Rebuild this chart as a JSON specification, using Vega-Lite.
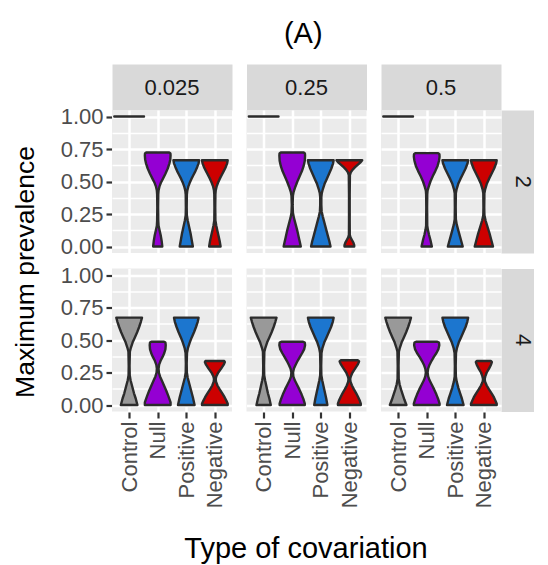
{
  "$schema": "https://vega.github.io/schema/vega-lite/v6.json",
  "background": "white",
  "padding": {"left": 12, "top": 20, "right": 0, "bottom": 0},
  "title": {"text": "(A)", "fontSize": 29, "font": "Liberation Sans", "fontWeight": "normal", "color": "#000000", "anchor": "middle", "offset": 28, "dx": 30},
  "data": {"values": [
    {"k":2,"sd":"0.025","type":"Control","y":1.0,"w":0.52},
    {"k":2,"sd":"0.025","type":"Null","y":0.723,"w":0.40},{"k":2,"sd":"0.025","type":"Null","y":0.715,"w":0.445},{"k":2,"sd":"0.025","type":"Null","y":0.70,"w":0.45},{"k":2,"sd":"0.025","type":"Null","y":0.67,"w":0.44},{"k":2,"sd":"0.025","type":"Null","y":0.64,"w":0.41},{"k":2,"sd":"0.025","type":"Null","y":0.60,"w":0.35},{"k":2,"sd":"0.025","type":"Null","y":0.56,"w":0.27},{"k":2,"sd":"0.025","type":"Null","y":0.52,"w":0.18},{"k":2,"sd":"0.025","type":"Null","y":0.49,"w":0.11},{"k":2,"sd":"0.025","type":"Null","y":0.46,"w":0.06},{"k":2,"sd":"0.025","type":"Null","y":0.43,"w":0.03},{"k":2,"sd":"0.025","type":"Null","y":0.40,"w":0.02},{"k":2,"sd":"0.025","type":"Null","y":0.30,"w":0.015},{"k":2,"sd":"0.025","type":"Null","y":0.20,"w":0.02},{"k":2,"sd":"0.025","type":"Null","y":0.16,"w":0.03},{"k":2,"sd":"0.025","type":"Null","y":0.12,"w":0.07},{"k":2,"sd":"0.025","type":"Null","y":0.08,"w":0.11},{"k":2,"sd":"0.025","type":"Null","y":0.04,"w":0.14},{"k":2,"sd":"0.025","type":"Null","y":0.0,"w":0.16},
    {"k":2,"sd":"0.025","type":"Positive","y":0.664,"w":0.45},{"k":2,"sd":"0.025","type":"Positive","y":0.64,"w":0.43},{"k":2,"sd":"0.025","type":"Positive","y":0.61,"w":0.38},{"k":2,"sd":"0.025","type":"Positive","y":0.58,"w":0.32},{"k":2,"sd":"0.025","type":"Positive","y":0.55,"w":0.25},{"k":2,"sd":"0.025","type":"Positive","y":0.52,"w":0.18},{"k":2,"sd":"0.025","type":"Positive","y":0.49,"w":0.12},{"k":2,"sd":"0.025","type":"Positive","y":0.46,"w":0.07},{"k":2,"sd":"0.025","type":"Positive","y":0.43,"w":0.035},{"k":2,"sd":"0.025","type":"Positive","y":0.40,"w":0.02},{"k":2,"sd":"0.025","type":"Positive","y":0.30,"w":0.015},{"k":2,"sd":"0.025","type":"Positive","y":0.24,"w":0.02},{"k":2,"sd":"0.025","type":"Positive","y":0.20,"w":0.05},{"k":2,"sd":"0.025","type":"Positive","y":0.15,"w":0.10},{"k":2,"sd":"0.025","type":"Positive","y":0.10,"w":0.15},{"k":2,"sd":"0.025","type":"Positive","y":0.05,"w":0.19},{"k":2,"sd":"0.025","type":"Positive","y":0.0,"w":0.23},
    {"k":2,"sd":"0.025","type":"Negative","y":0.664,"w":0.45},{"k":2,"sd":"0.025","type":"Negative","y":0.64,"w":0.43},{"k":2,"sd":"0.025","type":"Negative","y":0.61,"w":0.38},{"k":2,"sd":"0.025","type":"Negative","y":0.58,"w":0.31},{"k":2,"sd":"0.025","type":"Negative","y":0.55,"w":0.24},{"k":2,"sd":"0.025","type":"Negative","y":0.52,"w":0.17},{"k":2,"sd":"0.025","type":"Negative","y":0.49,"w":0.11},{"k":2,"sd":"0.025","type":"Negative","y":0.46,"w":0.06},{"k":2,"sd":"0.025","type":"Negative","y":0.43,"w":0.03},{"k":2,"sd":"0.025","type":"Negative","y":0.40,"w":0.02},{"k":2,"sd":"0.025","type":"Negative","y":0.30,"w":0.015},{"k":2,"sd":"0.025","type":"Negative","y":0.20,"w":0.02},{"k":2,"sd":"0.025","type":"Negative","y":0.16,"w":0.05},{"k":2,"sd":"0.025","type":"Negative","y":0.12,"w":0.09},{"k":2,"sd":"0.025","type":"Negative","y":0.08,"w":0.13},{"k":2,"sd":"0.025","type":"Negative","y":0.04,"w":0.17},{"k":2,"sd":"0.025","type":"Negative","y":0.0,"w":0.20},

    {"k":2,"sd":"0.25","type":"Control","y":1.0,"w":0.52},
    {"k":2,"sd":"0.25","type":"Null","y":0.723,"w":0.40},{"k":2,"sd":"0.25","type":"Null","y":0.715,"w":0.445},{"k":2,"sd":"0.25","type":"Null","y":0.70,"w":0.45},{"k":2,"sd":"0.25","type":"Null","y":0.66,"w":0.44},{"k":2,"sd":"0.25","type":"Null","y":0.62,"w":0.40},{"k":2,"sd":"0.25","type":"Null","y":0.58,"w":0.34},{"k":2,"sd":"0.25","type":"Null","y":0.54,"w":0.26},{"k":2,"sd":"0.25","type":"Null","y":0.50,"w":0.18},{"k":2,"sd":"0.25","type":"Null","y":0.46,"w":0.11},{"k":2,"sd":"0.25","type":"Null","y":0.42,"w":0.05},{"k":2,"sd":"0.25","type":"Null","y":0.39,"w":0.025},{"k":2,"sd":"0.25","type":"Null","y":0.32,"w":0.015},{"k":2,"sd":"0.25","type":"Null","y":0.26,"w":0.025},{"k":2,"sd":"0.25","type":"Null","y":0.22,"w":0.06},{"k":2,"sd":"0.25","type":"Null","y":0.17,"w":0.12},{"k":2,"sd":"0.25","type":"Null","y":0.12,"w":0.18},{"k":2,"sd":"0.25","type":"Null","y":0.07,"w":0.23},{"k":2,"sd":"0.25","type":"Null","y":0.03,"w":0.27},{"k":2,"sd":"0.25","type":"Null","y":0.0,"w":0.30},
    {"k":2,"sd":"0.25","type":"Positive","y":0.664,"w":0.45},{"k":2,"sd":"0.25","type":"Positive","y":0.64,"w":0.43},{"k":2,"sd":"0.25","type":"Positive","y":0.60,"w":0.37},{"k":2,"sd":"0.25","type":"Positive","y":0.56,"w":0.29},{"k":2,"sd":"0.25","type":"Positive","y":0.52,"w":0.21},{"k":2,"sd":"0.25","type":"Positive","y":0.48,"w":0.13},{"k":2,"sd":"0.25","type":"Positive","y":0.44,"w":0.07},{"k":2,"sd":"0.25","type":"Positive","y":0.41,"w":0.035},{"k":2,"sd":"0.25","type":"Positive","y":0.38,"w":0.02},{"k":2,"sd":"0.25","type":"Positive","y":0.32,"w":0.02},{"k":2,"sd":"0.25","type":"Positive","y":0.27,"w":0.03},{"k":2,"sd":"0.25","type":"Positive","y":0.23,"w":0.07},{"k":2,"sd":"0.25","type":"Positive","y":0.18,"w":0.13},{"k":2,"sd":"0.25","type":"Positive","y":0.13,"w":0.19},{"k":2,"sd":"0.25","type":"Positive","y":0.08,"w":0.25},{"k":2,"sd":"0.25","type":"Positive","y":0.04,"w":0.30},{"k":2,"sd":"0.25","type":"Positive","y":0.0,"w":0.34},
    {"k":2,"sd":"0.25","type":"Negative","y":0.664,"w":0.45},{"k":2,"sd":"0.25","type":"Negative","y":0.65,"w":0.40},{"k":2,"sd":"0.25","type":"Negative","y":0.63,"w":0.30},{"k":2,"sd":"0.25","type":"Negative","y":0.61,"w":0.20},{"k":2,"sd":"0.25","type":"Negative","y":0.59,"w":0.11},{"k":2,"sd":"0.25","type":"Negative","y":0.57,"w":0.05},{"k":2,"sd":"0.25","type":"Negative","y":0.55,"w":0.02},{"k":2,"sd":"0.25","type":"Negative","y":0.40,"w":0.012},{"k":2,"sd":"0.25","type":"Negative","y":0.20,"w":0.012},{"k":2,"sd":"0.25","type":"Negative","y":0.09,"w":0.015},{"k":2,"sd":"0.25","type":"Negative","y":0.07,"w":0.04},{"k":2,"sd":"0.25","type":"Negative","y":0.05,"w":0.09},{"k":2,"sd":"0.25","type":"Negative","y":0.03,"w":0.14},{"k":2,"sd":"0.25","type":"Negative","y":0.01,"w":0.17},{"k":2,"sd":"0.25","type":"Negative","y":0.0,"w":0.17},

    {"k":2,"sd":"0.5","type":"Control","y":1.0,"w":0.52},
    {"k":2,"sd":"0.5","type":"Null","y":0.718,"w":0.40},{"k":2,"sd":"0.5","type":"Null","y":0.71,"w":0.445},{"k":2,"sd":"0.5","type":"Null","y":0.69,"w":0.45},{"k":2,"sd":"0.5","type":"Null","y":0.66,"w":0.43},{"k":2,"sd":"0.5","type":"Null","y":0.62,"w":0.38},{"k":2,"sd":"0.5","type":"Null","y":0.58,"w":0.30},{"k":2,"sd":"0.5","type":"Null","y":0.54,"w":0.21},{"k":2,"sd":"0.5","type":"Null","y":0.50,"w":0.13},{"k":2,"sd":"0.5","type":"Null","y":0.46,"w":0.07},{"k":2,"sd":"0.5","type":"Null","y":0.43,"w":0.03},{"k":2,"sd":"0.5","type":"Null","y":0.40,"w":0.02},{"k":2,"sd":"0.5","type":"Null","y":0.30,"w":0.015},{"k":2,"sd":"0.5","type":"Null","y":0.16,"w":0.02},{"k":2,"sd":"0.5","type":"Null","y":0.13,"w":0.04},{"k":2,"sd":"0.5","type":"Null","y":0.09,"w":0.08},{"k":2,"sd":"0.5","type":"Null","y":0.05,"w":0.13},{"k":2,"sd":"0.5","type":"Null","y":0.0,"w":0.18},
    {"k":2,"sd":"0.5","type":"Positive","y":0.664,"w":0.45},{"k":2,"sd":"0.5","type":"Positive","y":0.64,"w":0.43},{"k":2,"sd":"0.5","type":"Positive","y":0.60,"w":0.36},{"k":2,"sd":"0.5","type":"Positive","y":0.56,"w":0.27},{"k":2,"sd":"0.5","type":"Positive","y":0.52,"w":0.18},{"k":2,"sd":"0.5","type":"Positive","y":0.48,"w":0.10},{"k":2,"sd":"0.5","type":"Positive","y":0.44,"w":0.045},{"k":2,"sd":"0.5","type":"Positive","y":0.41,"w":0.02},{"k":2,"sd":"0.5","type":"Positive","y":0.30,"w":0.015},{"k":2,"sd":"0.5","type":"Positive","y":0.21,"w":0.02},{"k":2,"sd":"0.5","type":"Positive","y":0.17,"w":0.05},{"k":2,"sd":"0.5","type":"Positive","y":0.12,"w":0.11},{"k":2,"sd":"0.5","type":"Positive","y":0.08,"w":0.16},{"k":2,"sd":"0.5","type":"Positive","y":0.04,"w":0.21},{"k":2,"sd":"0.5","type":"Positive","y":0.0,"w":0.26},
    {"k":2,"sd":"0.5","type":"Negative","y":0.664,"w":0.45},{"k":2,"sd":"0.5","type":"Negative","y":0.64,"w":0.43},{"k":2,"sd":"0.5","type":"Negative","y":0.60,"w":0.36},{"k":2,"sd":"0.5","type":"Negative","y":0.56,"w":0.27},{"k":2,"sd":"0.5","type":"Negative","y":0.52,"w":0.18},{"k":2,"sd":"0.5","type":"Negative","y":0.48,"w":0.10},{"k":2,"sd":"0.5","type":"Negative","y":0.44,"w":0.045},{"k":2,"sd":"0.5","type":"Negative","y":0.41,"w":0.02},{"k":2,"sd":"0.5","type":"Negative","y":0.30,"w":0.015},{"k":2,"sd":"0.5","type":"Negative","y":0.24,"w":0.02},{"k":2,"sd":"0.5","type":"Negative","y":0.20,"w":0.06},{"k":2,"sd":"0.5","type":"Negative","y":0.15,"w":0.13},{"k":2,"sd":"0.5","type":"Negative","y":0.10,"w":0.20},{"k":2,"sd":"0.5","type":"Negative","y":0.05,"w":0.26},{"k":2,"sd":"0.5","type":"Negative","y":0.0,"w":0.32},

    {"k":4,"sd":"0.025","type":"Control","y":0.672,"w":0.45},{"k":4,"sd":"0.025","type":"Control","y":0.64,"w":0.41},{"k":4,"sd":"0.025","type":"Control","y":0.60,"w":0.35},{"k":4,"sd":"0.025","type":"Control","y":0.56,"w":0.28},{"k":4,"sd":"0.025","type":"Control","y":0.52,"w":0.20},{"k":4,"sd":"0.025","type":"Control","y":0.48,"w":0.12},{"k":4,"sd":"0.025","type":"Control","y":0.44,"w":0.06},{"k":4,"sd":"0.025","type":"Control","y":0.41,"w":0.025},{"k":4,"sd":"0.025","type":"Control","y":0.30,"w":0.015},{"k":4,"sd":"0.025","type":"Control","y":0.23,"w":0.02},{"k":4,"sd":"0.025","type":"Control","y":0.19,"w":0.05},{"k":4,"sd":"0.025","type":"Control","y":0.14,"w":0.11},{"k":4,"sd":"0.025","type":"Control","y":0.09,"w":0.17},{"k":4,"sd":"0.025","type":"Control","y":0.05,"w":0.23},{"k":4,"sd":"0.025","type":"Control","y":0.0,"w":0.29},
    {"k":4,"sd":"0.025","type":"Null","y":0.487,"w":0.22},{"k":4,"sd":"0.025","type":"Null","y":0.48,"w":0.27},{"k":4,"sd":"0.025","type":"Null","y":0.46,"w":0.28},{"k":4,"sd":"0.025","type":"Null","y":0.43,"w":0.27},{"k":4,"sd":"0.025","type":"Null","y":0.40,"w":0.23},{"k":4,"sd":"0.025","type":"Null","y":0.37,"w":0.17},{"k":4,"sd":"0.025","type":"Null","y":0.34,"w":0.10},{"k":4,"sd":"0.025","type":"Null","y":0.31,"w":0.05},{"k":4,"sd":"0.025","type":"Null","y":0.28,"w":0.03},{"k":4,"sd":"0.025","type":"Null","y":0.25,"w":0.04},{"k":4,"sd":"0.025","type":"Null","y":0.22,"w":0.08},{"k":4,"sd":"0.025","type":"Null","y":0.19,"w":0.14},{"k":4,"sd":"0.025","type":"Null","y":0.15,"w":0.22},{"k":4,"sd":"0.025","type":"Null","y":0.11,"w":0.30},{"k":4,"sd":"0.025","type":"Null","y":0.07,"w":0.37},{"k":4,"sd":"0.025","type":"Null","y":0.04,"w":0.42},{"k":4,"sd":"0.025","type":"Null","y":0.02,"w":0.45},{"k":4,"sd":"0.025","type":"Null","y":0.0,"w":0.45},
    {"k":4,"sd":"0.025","type":"Positive","y":0.672,"w":0.43},{"k":4,"sd":"0.025","type":"Positive","y":0.64,"w":0.40},{"k":4,"sd":"0.025","type":"Positive","y":0.60,"w":0.34},{"k":4,"sd":"0.025","type":"Positive","y":0.56,"w":0.27},{"k":4,"sd":"0.025","type":"Positive","y":0.52,"w":0.19},{"k":4,"sd":"0.025","type":"Positive","y":0.48,"w":0.12},{"k":4,"sd":"0.025","type":"Positive","y":0.44,"w":0.06},{"k":4,"sd":"0.025","type":"Positive","y":0.40,"w":0.025},{"k":4,"sd":"0.025","type":"Positive","y":0.32,"w":0.015},{"k":4,"sd":"0.025","type":"Positive","y":0.25,"w":0.02},{"k":4,"sd":"0.025","type":"Positive","y":0.21,"w":0.05},{"k":4,"sd":"0.025","type":"Positive","y":0.16,"w":0.11},{"k":4,"sd":"0.025","type":"Positive","y":0.11,"w":0.17},{"k":4,"sd":"0.025","type":"Positive","y":0.06,"w":0.23},{"k":4,"sd":"0.025","type":"Positive","y":0.0,"w":0.29},
    {"k":4,"sd":"0.025","type":"Negative","y":0.338,"w":0.33},{"k":4,"sd":"0.025","type":"Negative","y":0.33,"w":0.35},{"k":4,"sd":"0.025","type":"Negative","y":0.31,"w":0.31},{"k":4,"sd":"0.025","type":"Negative","y":0.28,"w":0.22},{"k":4,"sd":"0.025","type":"Negative","y":0.25,"w":0.12},{"k":4,"sd":"0.025","type":"Negative","y":0.22,"w":0.05},{"k":4,"sd":"0.025","type":"Negative","y":0.20,"w":0.03},{"k":4,"sd":"0.025","type":"Negative","y":0.18,"w":0.04},{"k":4,"sd":"0.025","type":"Negative","y":0.15,"w":0.09},{"k":4,"sd":"0.025","type":"Negative","y":0.12,"w":0.17},{"k":4,"sd":"0.025","type":"Negative","y":0.09,"w":0.26},{"k":4,"sd":"0.025","type":"Negative","y":0.06,"w":0.34},{"k":4,"sd":"0.025","type":"Negative","y":0.03,"w":0.41},{"k":4,"sd":"0.025","type":"Negative","y":0.01,"w":0.45},{"k":4,"sd":"0.025","type":"Negative","y":0.0,"w":0.45},

    {"k":4,"sd":"0.25","type":"Control","y":0.672,"w":0.45},{"k":4,"sd":"0.25","type":"Control","y":0.64,"w":0.41},{"k":4,"sd":"0.25","type":"Control","y":0.60,"w":0.35},{"k":4,"sd":"0.25","type":"Control","y":0.56,"w":0.28},{"k":4,"sd":"0.25","type":"Control","y":0.52,"w":0.20},{"k":4,"sd":"0.25","type":"Control","y":0.48,"w":0.12},{"k":4,"sd":"0.25","type":"Control","y":0.44,"w":0.06},{"k":4,"sd":"0.25","type":"Control","y":0.41,"w":0.025},{"k":4,"sd":"0.25","type":"Control","y":0.30,"w":0.015},{"k":4,"sd":"0.25","type":"Control","y":0.23,"w":0.02},{"k":4,"sd":"0.25","type":"Control","y":0.19,"w":0.05},{"k":4,"sd":"0.25","type":"Control","y":0.14,"w":0.10},{"k":4,"sd":"0.25","type":"Control","y":0.09,"w":0.15},{"k":4,"sd":"0.25","type":"Control","y":0.05,"w":0.20},{"k":4,"sd":"0.25","type":"Control","y":0.0,"w":0.25},
    {"k":4,"sd":"0.25","type":"Null","y":0.487,"w":0.38},{"k":4,"sd":"0.25","type":"Null","y":0.48,"w":0.44},{"k":4,"sd":"0.25","type":"Null","y":0.46,"w":0.45},{"k":4,"sd":"0.25","type":"Null","y":0.43,"w":0.42},{"k":4,"sd":"0.25","type":"Null","y":0.40,"w":0.35},{"k":4,"sd":"0.25","type":"Null","y":0.37,"w":0.27},{"k":4,"sd":"0.25","type":"Null","y":0.34,"w":0.19},{"k":4,"sd":"0.25","type":"Null","y":0.31,"w":0.12},{"k":4,"sd":"0.25","type":"Null","y":0.28,"w":0.06},{"k":4,"sd":"0.25","type":"Null","y":0.25,"w":0.03},{"k":4,"sd":"0.25","type":"Null","y":0.22,"w":0.04},{"k":4,"sd":"0.25","type":"Null","y":0.19,"w":0.09},{"k":4,"sd":"0.25","type":"Null","y":0.16,"w":0.16},{"k":4,"sd":"0.25","type":"Null","y":0.12,"w":0.25},{"k":4,"sd":"0.25","type":"Null","y":0.08,"w":0.33},{"k":4,"sd":"0.25","type":"Null","y":0.04,"w":0.40},{"k":4,"sd":"0.25","type":"Null","y":0.01,"w":0.44},{"k":4,"sd":"0.25","type":"Null","y":0.0,"w":0.44},
    {"k":4,"sd":"0.25","type":"Positive","y":0.672,"w":0.45},{"k":4,"sd":"0.25","type":"Positive","y":0.64,"w":0.42},{"k":4,"sd":"0.25","type":"Positive","y":0.60,"w":0.36},{"k":4,"sd":"0.25","type":"Positive","y":0.56,"w":0.28},{"k":4,"sd":"0.25","type":"Positive","y":0.52,"w":0.20},{"k":4,"sd":"0.25","type":"Positive","y":0.48,"w":0.12},{"k":4,"sd":"0.25","type":"Positive","y":0.44,"w":0.06},{"k":4,"sd":"0.25","type":"Positive","y":0.40,"w":0.025},{"k":4,"sd":"0.25","type":"Positive","y":0.30,"w":0.015},{"k":4,"sd":"0.25","type":"Positive","y":0.23,"w":0.02},{"k":4,"sd":"0.25","type":"Positive","y":0.19,"w":0.05},{"k":4,"sd":"0.25","type":"Positive","y":0.14,"w":0.10},{"k":4,"sd":"0.25","type":"Positive","y":0.09,"w":0.15},{"k":4,"sd":"0.25","type":"Positive","y":0.05,"w":0.19},{"k":4,"sd":"0.25","type":"Positive","y":0.0,"w":0.23},
    {"k":4,"sd":"0.25","type":"Negative","y":0.344,"w":0.30},{"k":4,"sd":"0.25","type":"Negative","y":0.335,"w":0.34},{"k":4,"sd":"0.25","type":"Negative","y":0.31,"w":0.29},{"k":4,"sd":"0.25","type":"Negative","y":0.28,"w":0.20},{"k":4,"sd":"0.25","type":"Negative","y":0.25,"w":0.11},{"k":4,"sd":"0.25","type":"Negative","y":0.22,"w":0.05},{"k":4,"sd":"0.25","type":"Negative","y":0.20,"w":0.03},{"k":4,"sd":"0.25","type":"Negative","y":0.18,"w":0.04},{"k":4,"sd":"0.25","type":"Negative","y":0.15,"w":0.09},{"k":4,"sd":"0.25","type":"Negative","y":0.12,"w":0.16},{"k":4,"sd":"0.25","type":"Negative","y":0.09,"w":0.24},{"k":4,"sd":"0.25","type":"Negative","y":0.06,"w":0.31},{"k":4,"sd":"0.25","type":"Negative","y":0.03,"w":0.37},{"k":4,"sd":"0.25","type":"Negative","y":0.01,"w":0.40},{"k":4,"sd":"0.25","type":"Negative","y":0.0,"w":0.40},

    {"k":4,"sd":"0.5","type":"Control","y":0.672,"w":0.45},{"k":4,"sd":"0.5","type":"Control","y":0.64,"w":0.41},{"k":4,"sd":"0.5","type":"Control","y":0.60,"w":0.35},{"k":4,"sd":"0.5","type":"Control","y":0.56,"w":0.28},{"k":4,"sd":"0.5","type":"Control","y":0.52,"w":0.20},{"k":4,"sd":"0.5","type":"Control","y":0.48,"w":0.12},{"k":4,"sd":"0.5","type":"Control","y":0.44,"w":0.06},{"k":4,"sd":"0.5","type":"Control","y":0.41,"w":0.025},{"k":4,"sd":"0.5","type":"Control","y":0.30,"w":0.015},{"k":4,"sd":"0.5","type":"Control","y":0.20,"w":0.02},{"k":4,"sd":"0.5","type":"Control","y":0.16,"w":0.05},{"k":4,"sd":"0.5","type":"Control","y":0.12,"w":0.10},{"k":4,"sd":"0.5","type":"Control","y":0.08,"w":0.16},{"k":4,"sd":"0.5","type":"Control","y":0.04,"w":0.22},{"k":4,"sd":"0.5","type":"Control","y":0.0,"w":0.29},
    {"k":4,"sd":"0.5","type":"Null","y":0.487,"w":0.37},{"k":4,"sd":"0.5","type":"Null","y":0.48,"w":0.43},{"k":4,"sd":"0.5","type":"Null","y":0.46,"w":0.44},{"k":4,"sd":"0.5","type":"Null","y":0.43,"w":0.41},{"k":4,"sd":"0.5","type":"Null","y":0.40,"w":0.34},{"k":4,"sd":"0.5","type":"Null","y":0.37,"w":0.25},{"k":4,"sd":"0.5","type":"Null","y":0.34,"w":0.17},{"k":4,"sd":"0.5","type":"Null","y":0.31,"w":0.10},{"k":4,"sd":"0.5","type":"Null","y":0.28,"w":0.05},{"k":4,"sd":"0.5","type":"Null","y":0.25,"w":0.03},{"k":4,"sd":"0.5","type":"Null","y":0.22,"w":0.05},{"k":4,"sd":"0.5","type":"Null","y":0.19,"w":0.10},{"k":4,"sd":"0.5","type":"Null","y":0.16,"w":0.17},{"k":4,"sd":"0.5","type":"Null","y":0.12,"w":0.26},{"k":4,"sd":"0.5","type":"Null","y":0.08,"w":0.34},{"k":4,"sd":"0.5","type":"Null","y":0.04,"w":0.41},{"k":4,"sd":"0.5","type":"Null","y":0.01,"w":0.45},{"k":4,"sd":"0.5","type":"Null","y":0.0,"w":0.45},
    {"k":4,"sd":"0.5","type":"Positive","y":0.672,"w":0.45},{"k":4,"sd":"0.5","type":"Positive","y":0.64,"w":0.42},{"k":4,"sd":"0.5","type":"Positive","y":0.60,"w":0.36},{"k":4,"sd":"0.5","type":"Positive","y":0.56,"w":0.28},{"k":4,"sd":"0.5","type":"Positive","y":0.52,"w":0.20},{"k":4,"sd":"0.5","type":"Positive","y":0.48,"w":0.12},{"k":4,"sd":"0.5","type":"Positive","y":0.44,"w":0.06},{"k":4,"sd":"0.5","type":"Positive","y":0.40,"w":0.025},{"k":4,"sd":"0.5","type":"Positive","y":0.30,"w":0.015},{"k":4,"sd":"0.5","type":"Positive","y":0.22,"w":0.02},{"k":4,"sd":"0.5","type":"Positive","y":0.18,"w":0.05},{"k":4,"sd":"0.5","type":"Positive","y":0.13,"w":0.11},{"k":4,"sd":"0.5","type":"Positive","y":0.09,"w":0.17},{"k":4,"sd":"0.5","type":"Positive","y":0.05,"w":0.23},{"k":4,"sd":"0.5","type":"Positive","y":0.0,"w":0.29},
    {"k":4,"sd":"0.5","type":"Negative","y":0.338,"w":0.25},{"k":4,"sd":"0.5","type":"Negative","y":0.33,"w":0.28},{"k":4,"sd":"0.5","type":"Negative","y":0.31,"w":0.25},{"k":4,"sd":"0.5","type":"Negative","y":0.28,"w":0.18},{"k":4,"sd":"0.5","type":"Negative","y":0.25,"w":0.10},{"k":4,"sd":"0.5","type":"Negative","y":0.22,"w":0.05},{"k":4,"sd":"0.5","type":"Negative","y":0.20,"w":0.03},{"k":4,"sd":"0.5","type":"Negative","y":0.18,"w":0.04},{"k":4,"sd":"0.5","type":"Negative","y":0.15,"w":0.10},{"k":4,"sd":"0.5","type":"Negative","y":0.12,"w":0.18},{"k":4,"sd":"0.5","type":"Negative","y":0.09,"w":0.27},{"k":4,"sd":"0.5","type":"Negative","y":0.06,"w":0.35},{"k":4,"sd":"0.5","type":"Negative","y":0.03,"w":0.41},{"k":4,"sd":"0.5","type":"Negative","y":0.01,"w":0.45},{"k":4,"sd":"0.5","type":"Negative","y":0.0,"w":0.45}
  ]},
  "transform": [
    {"calculate": "indexof(['Control', 'Null', 'Positive', 'Negative'], datum.type) + 1", "as": "pos"},
    {"calculate": "datum.pos - datum.w", "as": "lo"},
    {"calculate": "datum.pos + datum.w", "as": "hi"}
  ],
  "bounds": "flush",
  "facet": {
    "row": {"field": "k", "type": "ordinal",
      "header": {"labelOrient": "right", "labelAngle": 90, "labelAlign": "center", "labelBaseline": "middle", "labelPadding": -21.5,
                 "title": "Maximum prevalence", "titleOrient": "left", "titleAngle": -90, "titlePadding": -16, "titleFontSize": 26.5}},
    "column": {"field": "sd", "type": "ordinal", "sort": ["0.025", "0.25", "0.5"],
      "header": {"labelOrient": "top", "labelBaseline": "middle", "labelPadding": -23,
                 "title": "Type of covariation", "titleOrient": "bottom", "titlePadding": 17, "titleFontSize": 29}}
  },
  "spacing": {"row": 15.5, "column": 14.5},
  "spec": {
    "width": 120,
    "height": 143,
    "layer": [
      {
        "mark": {"type": "area", "orient": "horizontal", "interpolate": "linear", "strokeWidth": 0},
        "encoding": {
          "y": {"field": "y", "type": "quantitative", "scale": {"domain": [-0.05, 1.05], "nice": false, "zero": false},
                "axis": {"orient": "left", "values": [0, 0.25, 0.5, 0.75, 1], "format": ".2f", "grid": true, "domain": false, "title": null, "labelFlush": false, "labelOverlap": false}},
          "x": {"field": "lo", "type": "quantitative", "stack": null, "scale": {"domain": [0.4, 4.6], "nice": false, "zero": false},
                "axis": {"orient": "bottom", "values": [1, 2, 3, 4], "labelExpr": "['Control', 'Null', 'Positive', 'Negative'][datum.value - 1]",
                         "labelAngle": -90, "labelAlign": "right", "labelBaseline": "middle", "grid": true, "domain": false, "title": null, "labelFlush": false, "labelOverlap": false}},
          "x2": {"field": "hi"},
          "color": {"field": "type", "type": "nominal",
                    "scale": {"domain": ["Control", "Null", "Positive", "Negative"], "range": ["#999999", "#9400D3", "#1C76CF", "#CD0000"]},
                    "legend": null}
        }
      },
      {
        "mark": {"type": "area", "orient": "horizontal", "interpolate": "linear", "fillOpacity": 0, "stroke": "#2B2B2B", "strokeWidth": 2.4, "strokeJoin": "round"},
        "encoding": {
          "y": {"field": "y", "type": "quantitative", "scale": {"domain": [-0.05, 1.05], "nice": false, "zero": false},
                "axis": {"orient": "right", "offset": 21.5, "domainWidth": 43, "domainColor": "#D9D9D9", "ticks": false, "labels": false,
                         "grid": true, "gridWidth": 1.3, "values": [0.125, 0.375, 0.625, 0.875], "title": null}},
          "x": {"field": "lo", "type": "quantitative", "stack": null, "scale": {"domain": [0.4, 4.6], "nice": false, "zero": false},
                "axis": {"orient": "top", "offset": 23, "domainWidth": 46, "domainColor": "#D9D9D9", "ticks": false, "labels": false, "grid": false, "title": null}},
          "x2": {"field": "hi"},
          "detail": {"field": "type"}
        }
      }
    ],
    "resolve": {"axis": {"x": "independent", "y": "independent"}}
  },
  "config": {
    "font": "Liberation Sans",
    "view": {"fill": "#EBEBEB", "stroke": null},
    "style": {"guide-title": {"dx": -11}},
    "axis": {"gridColor": "#FFFFFF", "gridWidth": 2.5, "tickColor": "#333333", "tickWidth": 2.2, "tickSize": 6,
             "labelFont": "Liberation Sans", "labelFontSize": 22, "labelColor": "#4D4D4D", "labelPadding": 3},
    "header": {"labelFont": "Liberation Sans", "labelFontSize": 22, "labelColor": "#1A1A1A",
               "titleFont": "Liberation Sans", "titleFontSize": 27, "titleFontWeight": "normal", "titleColor": "#000000"}
  }
}
